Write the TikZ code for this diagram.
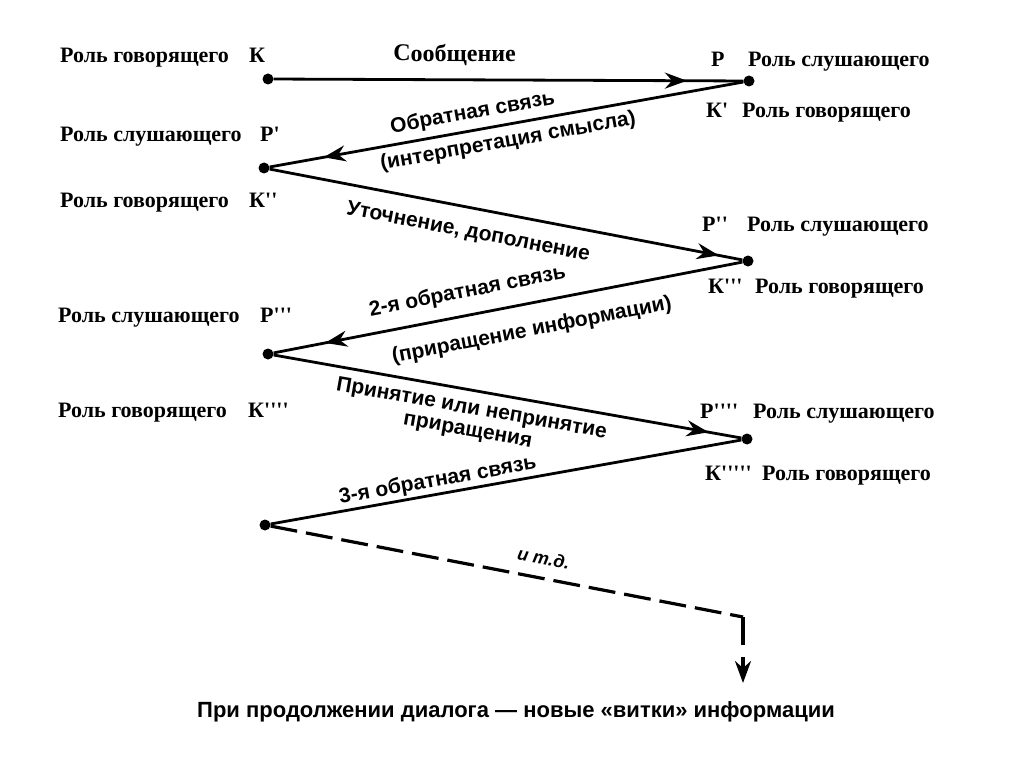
\documentclass[tikz,border=0pt]{standalone}
\usepackage{fontspec}
\setmainfont{Liberation Serif}
\setsansfont{Liberation Sans}
\usetikzlibrary{arrows.meta, decorations.markings}
\tikzset{
  dot/.style={circle, fill=black, inner sep=0pt, minimum size=11pt},
  role/.style={anchor=base west, inner sep=0pt, font=\fontsize{22}{26}\selectfont\bfseries},
  lbl/.style={sloped, inner sep=0pt, align=center, font=\fontsize{21}{22}\selectfont\sffamily\bfseries},
  lnk/.style={line width=2.8pt},
  mid/.style={postaction={decorate}, decoration={markings,
    mark=at position #1 with {\arrow{Stealth[length=22pt, width=16pt]}}}},
}
\newcommand{\sq}{\textquotesingle}

\begin{document}
\begin{tikzpicture}[x=1pt, y=-1pt]
\useasboundingbox (0,0) rectangle (1024,767);

% ── Точки смены ролей ───────────────────────────────────────
\node[dot] (d0) at (268,79) {};
\node[dot] (d1) at (749,81) {};
\node[dot] (d2) at (264,168) {};
\node[dot] (d3) at (748,261) {};
\node[dot] (d4) at (268,354) {};
\node[dot] (d5) at (747,439) {};
\node[dot] (d6) at (265,525) {};
\coordinate (c1) at (743,617);
\coordinate (c2) at (743,683);

% ── Левая колонка ───────────────────────────────────────────
\node[role] (l0) at (60,63) {Роль говорящего};
\node[role] (l0s) at (249,63) {К};
\node[role] (l1) at (60,142) {Роль слушающего};
\node[role] (l1s) at (260,142) {Р\sq};
\node[role] (l2) at (60,208) {Роль говорящего};
\node[role] (l2s) at (249,208) {К\sq\sq};
\node[role] (l3) at (58,322) {Роль слушающего};
\node[role] (l3s) at (260,322) {Р\sq\sq\sq};
\node[role] (l4) at (58,417) {Роль говорящего};
\node[role] (l4s) at (248,417) {К\sq\sq\sq\sq};

% ── Правая колонка ──────────────────────────────────────────
\node[role] (r0s) at (711,67) {Р};
\node[role] (r0) at (748,67) {Роль слушающего};
\node[role] (r1s) at (706,118) {К\sq};
\node[role] (r1) at (742,118) {Роль говорящего};
\node[role] (r2s) at (702,232) {Р\sq\sq};
\node[role] (r2) at (747,232) {Роль слушающего};
\node[role] (r3s) at (708,293) {К\sq\sq\sq};
\node[role] (r3) at (755,293) {Роль говорящего};
\node[role] (r4s) at (700,418) {Р\sq\sq\sq\sq};
\node[role] (r4) at (753,418) {Роль слушающего};
\node[role] (r5s) at (705,480) {К\sq\sq\sq\sq\sq};
\node[role] (r5) at (762,480) {Роль говорящего};

% ── Зигзаг диалога ──────────────────────────────────────────
\draw[lnk, mid=0.88] (d0) -- (d1)
  node[lbl, pos=0.385, above=13pt, font=\fontsize{24}{26}\selectfont\bfseries] {Сообщение};
\draw[lnk, mid=0.886] (d1) -- (d2)
  node[lbl, pos=0.565, above=6pt] {Обратная связь}
  node[lbl, pos=0.503, below=6pt] {(интерпретация смысла)};
\draw[lnk, mid=0.95] (d2) -- (d3)
  node[lbl, pos=0.43, below=14pt] {Уточнение, дополнение};
\draw[lnk, mid=0.89] (d3) -- (d4)
  node[lbl, pos=0.577, above=12pt] {2-я обратная связь}
  node[lbl, pos=0.46, below=16pt] {(приращение информации)};
\draw[lnk, mid=0.93] (d4) -- (d5)
  node[lbl, pos=0.43, below=8pt] {Принятие или непринятие\\приращения};
\draw[lnk] (d5) -- (d6)
  node[lbl, pos=0.64, above=2pt] {3-я обратная связь};

% ── Продолжение ─────────────────────────────────────────────
\draw[lnk, line width=3.2pt, dash pattern=on 27pt off 9pt] (d6) -- (c1)
  node[lbl, pos=0.57, above=12pt, font=\fontsize{18}{20}\selectfont\sffamily\bfseries\itshape] {и т.д.};
\draw[lnk, line width=3.2pt, dash pattern=on 28pt off 12pt, -{Stealth[length=22pt, width=16pt]}] (c1) -- (c2);
\node[font=\fontsize{22}{24}\selectfont\sffamily\bfseries] (note) at (516,712)
  {При продолжении диалога — новые «витки» информации};

\end{tikzpicture}
\end{document}
